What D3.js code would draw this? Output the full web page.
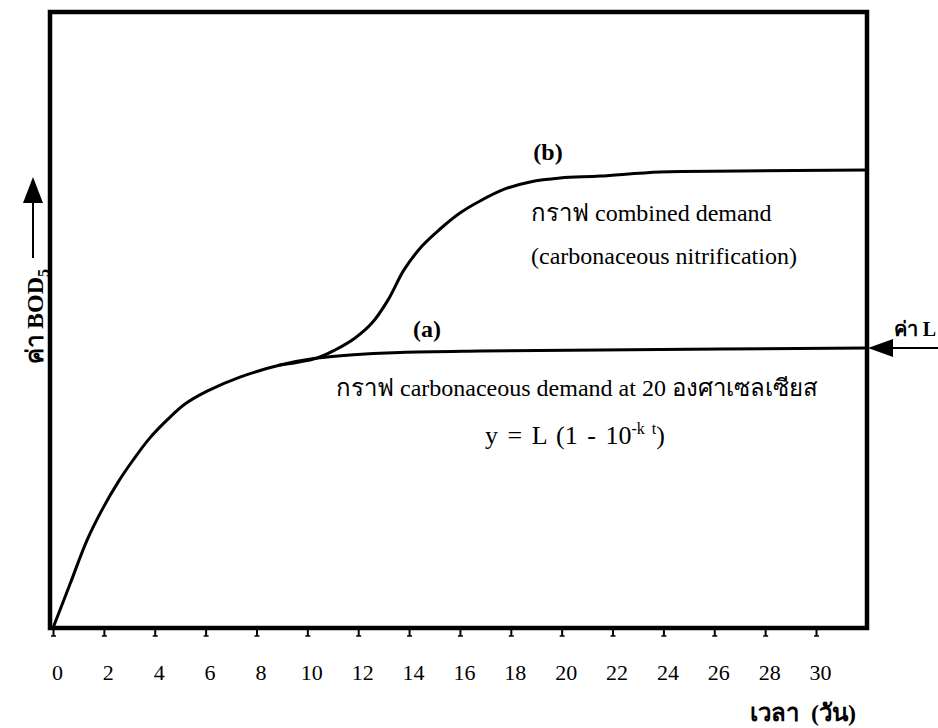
<!DOCTYPE html>
<html>
<head>
<meta charset="utf-8">
<script src="https://cdn.jsdelivr.net/npm/d3@7"></script>
<style>
  html, body { margin: 0; padding: 0; background: #fff; }
  svg text { font-family: "Liberation Serif", "Noto Sans", "DejaVu Serif", serif; fill: #000; }
</style>
</head>
<body>
<svg id="chart" width="938" height="728"></svg>
<script>
// Time in days and BOD (in units of the ultimate carbonaceous demand L)
const daysA = [0, 0.67, 1.34, 1.97, 2.56, 3.15, 3.81, 4.52, 5.19, 6.06, 7.35, 8.93, 10.38, 11.68, 13.65, 16.79, 21.51, 32];
const carbonaceous = [0, 0.157, 0.314, 0.429, 0.521, 0.600, 0.679, 0.746, 0.800, 0.846, 0.896, 0.939, 0.964, 0.975, 0.984, 0.989, 0.993, 1.0];

// Combined demand departs from the carbonaceous curve once nitrification starts
const daysB = [8.93, 10.38, 11.09, 11.88, 12.54, 13.17, 13.80, 14.51, 15.22, 16.0, 16.79, 17.77, 18.76, 19.94, 21.51, 23.87, 27.02, 32];
const combined = [0.939, 0.964, 0.993, 1.036, 1.089, 1.171, 1.279, 1.364, 1.425, 1.482, 1.525, 1.568, 1.593, 1.607, 1.614, 1.629, 1.632, 1.636];

const L = 1.0;
const xTicks = [0, 2, 4, 6, 8, 10, 12, 14, 16, 18, 20, 22, 24, 26, 28, 30];

const svg = d3.select("#chart");
svg.append("rect").attr("width", 938).attr("height", 728).attr("fill", "#fff");

const x = d3.scaleLinear().domain([0, 30]).range([53, 816]);
const y = d3.scaleLinear().domain([0, 2.2]).range([628, 12]);

const frameLeft = 50, frameRight = 867, frameTop = 12, frameBottom = 628;

// Plot frame
svg.append("rect")
  .attr("x", frameLeft).attr("y", frameTop)
  .attr("width", frameRight - frameLeft).attr("height", frameBottom - frameTop)
  .attr("fill", "none").attr("stroke", "#000").attr("stroke-width", 4.5);

// Time axis ticks and labels
const xAxis = d3.axisBottom(x).tickValues(xTicks).tickSizeInner(8).tickSizeOuter(0).tickFormat(d3.format("d"));
const gx = svg.append("g").attr("transform", `translate(0,${frameBottom})`).call(xAxis);
gx.select(".domain").remove();
gx.selectAll(".tick line").attr("stroke", "#000").attr("stroke-width", 2);
gx.selectAll(".tick").append("line")
  .attr("x1", -2.5).attr("x2", 2.5).attr("y1", 8).attr("y2", 8)
  .attr("stroke", "#000").attr("stroke-width", 1.5);
gx.selectAll(".tick text")
  .attr("y", 52).attr("dy", 0).attr("dx", 4)
  .style("font-family", '"Liberation Serif", serif')
  .style("font-size", "22px");

const line = d3.line().x(d => x(d[0])).y(d => y(d[1])).curve(d3.curveCatmullRom.alpha(0.5));

const g = svg.append("g");
g.append("path")
  .datum(daysA.map((d, i) => [d, carbonaceous[i]]))
  .attr("d", line).attr("fill", "none").attr("stroke", "#000").attr("stroke-width", 3)
  .attr("stroke-linejoin", "round").attr("stroke-linecap", "round");
g.append("path")
  .datum(daysB.map((d, i) => [d, combined[i]]))
  .attr("d", line).attr("fill", "none").attr("stroke", "#000").attr("stroke-width", 3)
  .attr("stroke-linejoin", "round").attr("stroke-linecap", "round");

// Arrow marking the ultimate demand L
const yL = y(L);
svg.append("line").attr("x1", 938).attr("x2", 885).attr("y1", yL).attr("y2", yL)
  .attr("stroke", "#000").attr("stroke-width", 2);
svg.append("path")
  .attr("d", `M${frameRight + 1},${yL} L${frameRight + 26},${yL - 9} L${frameRight + 26},${yL + 9} Z`)
  .attr("fill", "#000");
svg.append("text").attr("x", 936).attr("y", 336).attr("text-anchor", "end")
  .style("font-size", "20px").style("font-weight", "bold").text("ค่า L");

// Y axis label with upward arrow
svg.append("line").attr("x1", 33).attr("x2", 33).attr("y1", 258).attr("y2", 195)
  .attr("stroke", "#000").attr("stroke-width", 2);
svg.append("path").attr("d", "M33,177 L23,203 L43,203 Z").attr("fill", "#000");
const yl = svg.append("text").attr("transform", "translate(43,364) rotate(-90)")
  .style("font-size", "24px").style("font-weight", "bold");
yl.append("tspan").text("ค่า BOD");
yl.append("tspan").attr("dy", 6).style("font-size", "16px").text("5");

// Curve labels
svg.append("text").attr("x", 548).attr("y", 160).attr("text-anchor", "middle")
  .style("font-size", "24px").style("font-weight", "bold").text("(b)");
svg.append("text").attr("x", 427).attr("y", 337).attr("text-anchor", "middle")
  .style("font-size", "24px").style("font-weight", "bold").text("(a)");

svg.append("text").attr("x", 531).attr("y", 221).style("font-size", "24px").text("กราฟ combined demand");
svg.append("text").attr("x", 531).attr("y", 264).style("font-size", "24px").text("(carbonaceous nitrification)");
svg.append("text").attr("x", 336).attr("y", 396).style("font-size", "24px")
  .text("กราฟ carbonaceous demand at 20  องศาเซลเซียส");

const eq = svg.append("text").attr("x", 485).attr("y", 444)
  .style("font-size", "26px").style("word-spacing", "3px");
eq.append("tspan").text("y = L (1 - 10");
eq.append("tspan").attr("dy", -10).style("font-size", "16px").text("-k t");
eq.append("tspan").attr("dy", 10).text(")");

// Time axis title
svg.append("text").attr("x", 856).attr("y", 721).attr("text-anchor", "end")
  .style("font-size", "24px").style("font-weight", "bold").style("word-spacing", "6px").text("เวลา (วัน)");
</script>
</body>
</html>
